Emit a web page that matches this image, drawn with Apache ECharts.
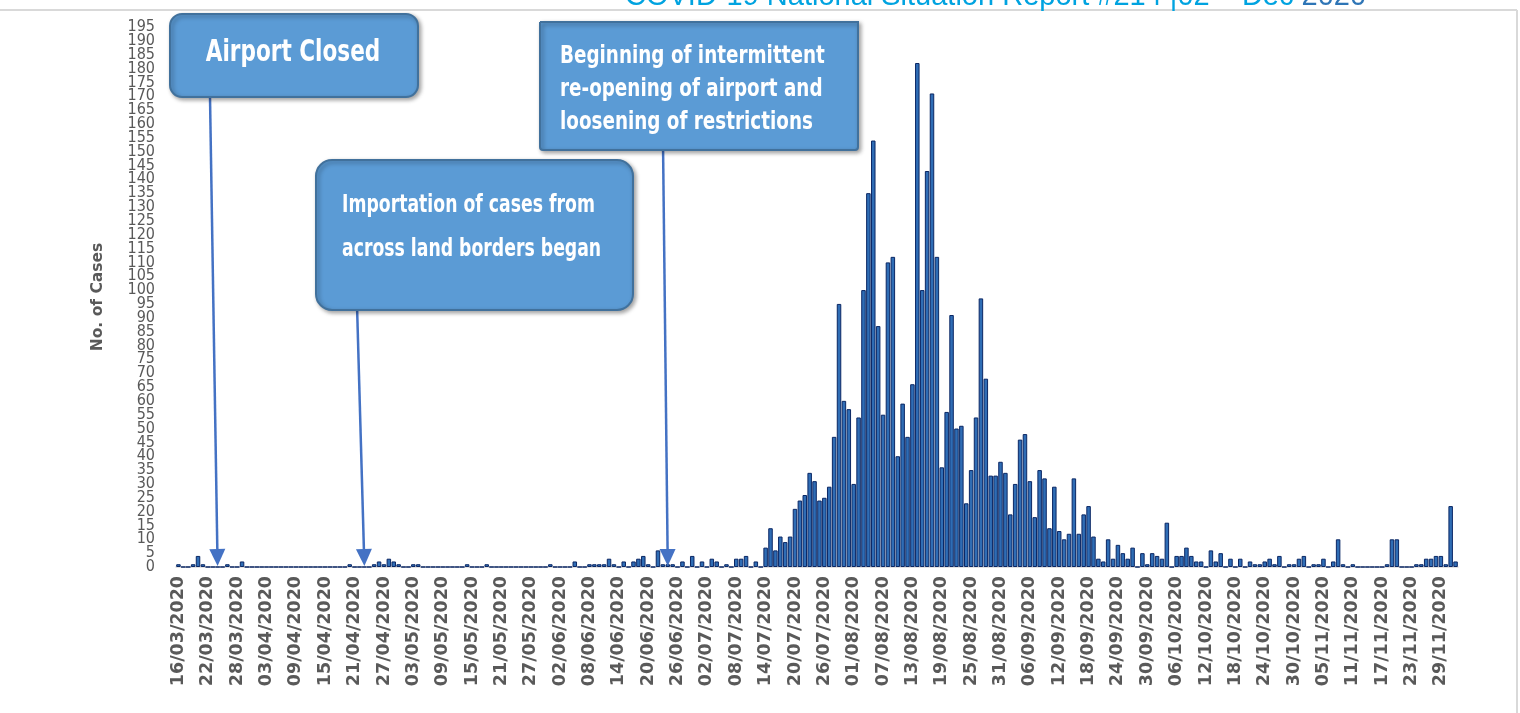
<!DOCTYPE html>
<html>
<head>
<meta charset="utf-8">
<script src="https://cdn.jsdelivr.net/npm/echarts@6/dist/echarts.min.js"></script>
<style>
html,body{margin:0;padding:0;background:#ffffff;}
#chart{width:1520px;height:713px;}
</style>
</head>
<body>
<div id="chart"></div>
<script>
// ---------------- DATA ----------------
const startDate = '16/03/2020';
const dayCount = 262; // 16/03/2020 .. 02/12/2020

// daily new cases, one value per day from 16/03/2020
const dailyCases = [
  1,0,0,1,4,1,0,0,0,0,
  1,0,0,2,0,0,0,0,0,0,
  0,0,0,0,0,0,0,0,0,0,
  0,0,0,0,0,1,0,0,0,0,
  1,2,1,3,2,1,0,0,1,1,
  0,0,0,0,0,0,0,0,0,1,
  0,0,0,1,0,0,0,0,0,0,
  0,0,0,0,0,0,1,0,0,0,
  0,2,0,0,1,1,1,1,3,1,
  0,2,0,2,3,4,1,0,6,1,
  1,1,0,2,0,4,0,2,0,3,
  2,0,1,0,3,3,4,0,2,0,
  7,14,6,11,9,11,21,24,26,34,
  31,24,25,29,47,95,60,57,30,54,
  100,135,154,87,55,110,112,40,59,47,
  66,182,100,143,171,112,36,56,91,50,
  51,23,35,54,97,68,33,33,38,34,
  19,30,46,48,31,18,35,32,14,29,
  13,10,12,32,12,19,22,11,3,2,
  10,3,8,5,3,7,0,5,1,5,
  4,3,16,0,4,4,7,4,2,2,
  0,6,2,5,0,3,0,3,0,2,
  1,1,2,3,1,4,0,1,1,3,
  4,0,1,1,3,0,2,10,1,0,
  1,0,0,0,0,0,0,1,10,10,
  0,0,0,1,1,3,3,4,4,1,
  22,2
];

const yAxisMin = 0;
const yAxisMax = 195;
const yAxisStep = 5;
const yTickValues = [0,5,10,15,20,25,30,35,40,45,50,55,60,65,70,75,80,85,90,95,
  100,105,110,115,120,125,130,135,140,145,150,155,160,165,170,175,180,185,190,195];
const yAxisTitle = 'No. of Cases';
const labelEveryNDays = 6;

const reportTitle = 'COVID-19 National Situation Report #214 |02 – Dec ';
const reportYear = '2020';

const annotationDates = ['24/03/2020', '23/04/2020', '24/06/2020'];
const annotationTexts = [
  ['Airport Closed'],
  ['Importation of cases from', 'across land borders began'],
  ['Beginning of intermittent', 're-opening of airport and', 'loosening of restrictions']
];

// ---------------- BUILD CATEGORIES ----------------
function buildDates(start, n) {
  const p = start.split('/').map(Number);
  const d = new Date(Date.UTC(p[2], p[1] - 1, p[0]));
  const out = [];
  for (let i = 0; i < n; i++) {
    const dd = String(d.getUTCDate()).padStart(2, '0');
    const mm = String(d.getUTCMonth() + 1).padStart(2, '0');
    out.push(dd + '/' + mm + '/' + d.getUTCFullYear());
    d.setUTCDate(d.getUTCDate() + 1);
  }
  return out;
}
const dates = buildDates(startDate, dayCount);

// the tick labels are split over two stacked left axes so none is dropped for overlapping
const yTicksEven = yTickValues.filter(function (v, i) { return i % 2 === 0; });
const yTicksOdd = yTickValues.filter(function (v, i) { return i % 2 === 1; });

// ---------------- LAYOUT (not data) ----------------
const boxLayout = [
  {x: 170, y: 14, w: 248, h: 83, r: 12, textX: 293, textY: 53, align: 'center', size: 30, lh: 40, tail: [210, 97]},
  {x: 316, y: 160, w: 317, h: 150, r: 16, textX: 342, textY: 228, align: 'left', size: 24, lh: 44, tail: [357, 305]},
  {x: 540, y: 22, w: 318, h: 128, r: [0, 0, 3, 3], textX: 560, textY: 89, align: 'left', size: 25.5, lh: 33, tail: [663, 143]}
];
const condFont = "'DejaVu Sans Condensed','DejaVu Sans',sans-serif";
const textSquash = 0.8;

const yLabelStyle = {
  margin: 21,
  color: '#595959',
  fontFamily: condFont,
  fontSize: 16,
  showMinLabel: true,
  showMaxLabel: true,
  hideOverlap: false
};

function makeYAxis(values, withName) {
  const ax = {
    type: 'value',
    position: 'left',
    offset: 0,
    min: yAxisMin,
    max: yAxisMax,
    interval: yAxisStep,
    axisLine: {show: false},
    axisTick: {show: false},
    splitLine: {show: false},
    axisLabel: Object.assign({customValues: values}, yLabelStyle)
  };
  if (withName) {
    ax.name = yAxisTitle;
    ax.nameLocation = 'middle';
    ax.nameGap = 70;
    ax.nameRotate = 90;
    ax.nameTextStyle = {color: '#595959', fontFamily: "'DejaVu Sans',sans-serif", fontWeight: 'bold', fontSize: 15.5};
  }
  return ax;
}

const chart = echarts.init(document.getElementById('chart'), null, {renderer: 'canvas'});

const option = {
  animation: false,
  backgroundColor: '#ffffff',
  grid: {left: 176, right: 62, top: 27, bottom: 146, containLabel: false},
  xAxis: {
    type: 'category',
    data: dates,
    boundaryGap: true,
    axisLine: {show: true, lineStyle: {color: '#d9d9d9', width: 1.5}},
    axisTick: {show: false},
    axisLabel: {
      interval: labelEveryNDays - 1,
      rotate: 90,
      margin: 9,
      color: '#595959',
      fontFamily: "'DejaVu Sans',sans-serif",
      fontWeight: 'bold',
      fontSize: 17.5
    },
    splitLine: {show: false}
  },
  yAxis: [makeYAxis(yTicksEven, true), makeYAxis(yTicksOdd, false)],
  series: [{
    type: 'bar',
    yAxisIndex: 0,
    data: dailyCases,
    barCategoryGap: '8%',
    itemStyle: {color: '#2f6db5', borderColor: '#0b2764', borderWidth: 1}
  }]
};
chart.setOption(option);

// ---------------- ANNOTATIONS ----------------
function buildGraphics() {
  const g = [];
  g.push({type: 'line', shape: {x1: 0, y1: 10, x2: 1517, y2: 10}, style: {stroke: '#d9d9d9', lineWidth: 2}, z: 1});
  g.push({type: 'line', shape: {x1: 1517, y1: 10, x2: 1517, y2: 713}, style: {stroke: '#d9d9d9', lineWidth: 2}, z: 1});
  g.push({
    type: 'text', z: 2,
    style: {
      x: 625, y: 11,
      text: '{a|' + reportTitle + '}{b|' + reportYear + '}',
      verticalAlign: 'bottom', align: 'left',
      rich: {
        a: {fill: '#00a3e0', fontSize: 29, fontFamily: "'Liberation Sans',Arial,sans-serif"},
        b: {fill: '#2e75b6', fontSize: 29, fontFamily: "'Liberation Sans',Arial,sans-serif"}
      }
    }
  });
  const baseY = chart.convertToPixel({yAxisIndex: 0}, 0);
  annotationDates.forEach(function (dt, i) {
    const L = boxLayout[i];
    const tipX = chart.convertToPixel({xAxisIndex: 0}, dt);
    const tipY = baseY - 1;
    const headH = 17, headW = 8;
    const dx = tipX - L.tail[0], dy = tipY - L.tail[1];
    const len = Math.sqrt(dx * dx + dy * dy);
    const ux = dx / len, uy = dy / len;
    const bx = tipX - ux * headH, by = tipY - uy * headH;
    g.push({type: 'line', z: 20, shape: {x1: L.tail[0], y1: L.tail[1], x2: bx, y2: by}, style: {stroke: '#4472c4', lineWidth: 2.5}});
    g.push({type: 'polygon', z: 20, shape: {points: [[tipX, tipY], [bx - uy * headW, by + ux * headW], [bx + uy * headW, by - ux * headW]]}, style: {fill: '#4472c4'}});
    g.push({
      type: 'rect', z: 30,
      shape: {x: L.x, y: L.y, width: L.w, height: L.h, r: L.r},
      style: {fill: '#5b9bd5', stroke: '#41719c', lineWidth: 2, shadowBlur: 4, shadowColor: 'rgba(0,0,0,0.35)', shadowOffsetX: 2, shadowOffsetY: 2}
    });
    g.push({
      type: 'text', z: 31,
      x: L.textX, y: L.textY,
      scaleX: textSquash, scaleY: 1,
      style: {
        x: 0, y: 0,
        text: annotationTexts[i].join('\n'),
        align: L.align, verticalAlign: 'middle',
        fill: '#ffffff',
        font: 'bold ' + L.size + 'px ' + condFont,
        lineHeight: L.lh
      }
    });
  });
  return g;
}
chart.setOption({graphic: buildGraphics()});
</script>
</body>
</html>
